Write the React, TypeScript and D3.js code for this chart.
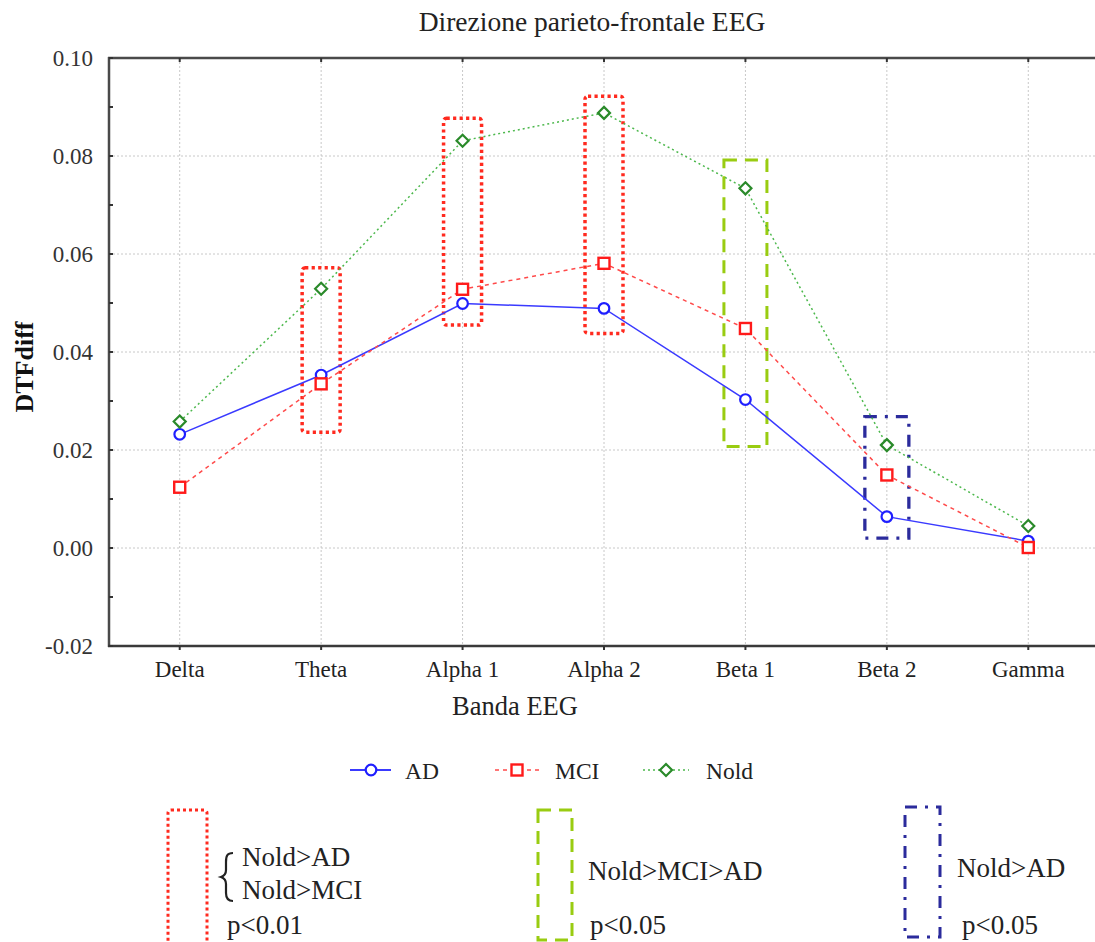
import React from "react";
import * as d3 from "d3";

const categories = ["Delta", "Theta", "Alpha 1", "Alpha 2", "Beta 1", "Beta 2", "Gamma"];
const adValues = [0.0232, 0.0353, 0.0499, 0.0489, 0.0303, 0.0064, 0.0014];
const mciValues = [0.0124, 0.0335, 0.0528, 0.0581, 0.0448, 0.0149, 0.0001];
const noldValues = [0.0258, 0.0529, 0.0831, 0.0888, 0.0734, 0.021, 0.0045];
const yTicks = [-0.02, 0.0, 0.02, 0.04, 0.06, 0.08, 0.1];
const yMinorTicks = [-0.01, 0.01, 0.03, 0.05, 0.07, 0.09];
const sigBands = ["Theta", "Alpha 1", "Alpha 2", "Beta 1", "Beta 2"];
const sigTops = [0.0572, 0.0877, 0.0922, 0.0792, 0.0268];
const sigBottoms = [0.0236, 0.0455, 0.0438, 0.0207, 0.002];
const sigKinds = ["p01", "p01", "p01", "mci", "ad"];

const FONT = '"Liberation Serif", "Times New Roman", serif';
const W = 1095;
const H = 942;
const left = 109;
const right = 1099;
const top = 58;
const bottom = 646;

const boxStyle: Record<string, { stroke: string; dash: string; sw: number; half: number }> = {
  p01: { stroke: "#ff2a1f", dash: "3.2,3.3", sw: 3.5, half: 19 },
  mci: { stroke: "#99cc11", dash: "13,8", sw: 3, half: 21.5 },
  ad: { stroke: "#2b2b9c", dash: "12,8,3,8", sw: 3.3, half: 22 },
};

function Marker({ kind, x, y }: { kind: string; x: number; y: number }) {
  if (kind === "AD")
    return <circle cx={x} cy={y} r={5.3} fill="#fff" stroke="#1f1fff" strokeWidth={2.2} />;
  if (kind === "MCI")
    return <rect x={x - 5.5} y={y - 5.5} width={11} height={11} fill="#fff" stroke="#ff1a1a" strokeWidth={2.4} />;
  return (
    <path
      d={`M${x},${y - 6} L${x + 6},${y} L${x},${y + 6} L${x - 6},${y} Z`}
      fill="#fff"
      stroke="#2a8a2a"
      strokeWidth={2.2}
    />
  );
}

export default function App() {
  const x = d3.scalePoint<string>().domain(categories).range([left, right]).padding(0.5);
  const y = d3.scaleLinear().domain([-0.02, 0.1]).range([bottom, top]);
  const fmt = (t: number) => d3.format(".2f")(t).replace("\u2212", "-");

  const series = [
    { name: "AD", values: adValues, color: "#3a3aff", dash: "none" },
    { name: "MCI", values: mciValues, color: "#ff4a4a", dash: "4,4" },
    { name: "Nold", values: noldValues, color: "#4cb84c", dash: "2,3" },
  ];

  const line = d3
    .line<number>()
    .x((_, i) => x(categories[i]) as number)
    .y((d) => y(d));

  const legendItems = [
    { name: "AD", x0: 350, x1: 391, mx: 371, tx: 405 },
    { name: "MCI", x0: 495, x1: 539, mx: 517, tx: 555 },
    { name: "Nold", x0: 643, x1: 689, mx: 666, tx: 706 },
  ];

  const sigText = { fontSize: 27, fill: "#222" };

  return (
    <svg width={W} height={H} style={{ position: "absolute", left: 0, top: 0, background: "#fff" }} fontFamily={FONT}>
      <rect x={0} y={0} width={W} height={H} fill="#fff" />
      {/* title */}
      <text x={592} y={31} textAnchor="middle" fontSize={27.5} fill="#222">
        Direzione parieto-frontale EEG
      </text>

      {/* grid */}
      {yTicks.map((t) => (
        <line key={"gy" + t} x1={left} x2={right} y1={y(t)} y2={y(t)} stroke="#c8c8c8" strokeWidth={1} strokeDasharray="2,2" />
      ))}
      {categories.map((c) => (
        <line key={"gx" + c} x1={x(c)} x2={x(c)} y1={top} y2={bottom} stroke="#c8c8c8" strokeWidth={1} strokeDasharray="2,2" />
      ))}

      {/* axes frame */}
      <line x1={left} x2={left} y1={top - 1} y2={bottom + 1} stroke="#4a4a4a" strokeWidth={2.5} />
      <line x1={left - 1} x2={right} y1={top} y2={top} stroke="#4a4a4a" strokeWidth={2.5} />
      <line x1={left - 1} x2={right} y1={bottom} y2={bottom} stroke="#3a3a3a" strokeWidth={2.5} />

      {/* ticks */}
      {yTicks.concat(yMinorTicks).map((t) => (
        <line key={"ty" + t} x1={left} x2={left + 4} y1={y(t)} y2={y(t)} stroke="#333" strokeWidth={2} />
      ))}
      {categories.map((c) => (
        <g key={"tx" + c}>
          <line x1={x(c)} x2={x(c)} y1={top} y2={top + 4} stroke="#333" strokeWidth={2} />
          <line x1={x(c)} x2={x(c)} y1={bottom} y2={bottom + 4} stroke="#333" strokeWidth={2} />
        </g>
      ))}

      {/* y tick labels */}
      {yTicks.map((t) => (
        <text key={"yl" + t} x={93} y={y(t) + 7.5} textAnchor="end" fontSize={23} fill="#333">
          {fmt(t)}
        </text>
      ))}
      {/* x tick labels */}
      {categories.map((c) => (
        <text key={"xl" + c} x={x(c)} y={677} textAnchor="middle" fontSize={23} fill="#222">
          {c}
        </text>
      ))}
      <text x={515} y={715} textAnchor="middle" fontSize={26.5} fill="#222">
        Banda EEG
      </text>
      <text
        transform={`translate(33,367) rotate(-90)`}
        textAnchor="middle"
        fontSize={26}
        fontWeight="bold"
        fill="#111"
      >
        DTFdiff
      </text>

      {/* significance boxes */}
      {sigBands.map((b, i) => {
        const s = boxStyle[sigKinds[i]];
        const cx = x(b) as number;
        return (
          <rect
            key={"sb" + b}
            x={cx - s.half}
            y={y(sigTops[i])}
            width={s.half * 2}
            height={y(sigBottoms[i]) - y(sigTops[i])}
            fill="none"
            stroke={s.stroke}
            strokeWidth={s.sw}
            strokeDasharray={s.dash}
            rx={sigKinds[i] === "p01" ? 3 : 0}
          />
        );
      })}

      {/* series lines */}
      {series.map((s) => (
        <path key={"l" + s.name} d={line(s.values) || ""} fill="none" stroke={s.color} strokeWidth={1.5} strokeDasharray={s.dash} />
      ))}
      {series.map((s) =>
        s.values.map((v, i) => <Marker key={s.name + i} kind={s.name} x={x(categories[i]) as number} y={y(v)} />)
      )}

      {/* legend */}
      {legendItems.map((it, i) => {
        const s = series[i];
        return (
          <g key={"lg" + it.name}>
            <line x1={it.x0} x2={it.x1} y1={770} y2={770} stroke={s.color} strokeWidth={i === 0 ? 2 : 1.5} strokeDasharray={s.dash} />
            <Marker kind={it.name} x={it.mx} y={770} />
            <text x={it.tx} y={779} fontSize={23.5} fill="#222">
              {it.name}
            </text>
          </g>
        );
      })}

      {/* significance legend */}
      <rect x={168} y={810} width={39} height={150} fill="none" stroke={boxStyle.p01.stroke} strokeWidth={3} strokeDasharray="3,3" rx={3} />
      <path
        d="M233,853 C227,853 226,856 226,862 L226,870 C226,874 224,876 221,877 C224,878 226,880 226,884 L226,893 C226,898 228,901 233,901"
        fill="none"
        stroke="#222"
        strokeWidth={2.2}
      />
      <text x={242} y={866} {...sigText}>Nold&gt;AD</text>
      <text x={242} y={899} {...sigText}>Nold&gt;MCI</text>
      <text x={227} y={934} {...sigText}>p&lt;0.01</text>

      <rect x={538} y={810} width={34} height={130} fill="none" stroke={boxStyle.mci.stroke} strokeWidth={3} strokeDasharray="13,8" />
      <text x={588} y={880} {...sigText}>Nold&gt;MCI&gt;AD</text>
      <text x={590} y={934} {...sigText}>p&lt;0.05</text>

      <rect x={905} y={807} width={35} height={130} fill="none" stroke={boxStyle.ad.stroke} strokeWidth={3} strokeDasharray="12,8,3,8" />
      <text x={957} y={877} {...sigText}>Nold&gt;AD</text>
      <text x={962} y={934} {...sigText}>p&lt;0.05</text>
    </svg>
  );
}
